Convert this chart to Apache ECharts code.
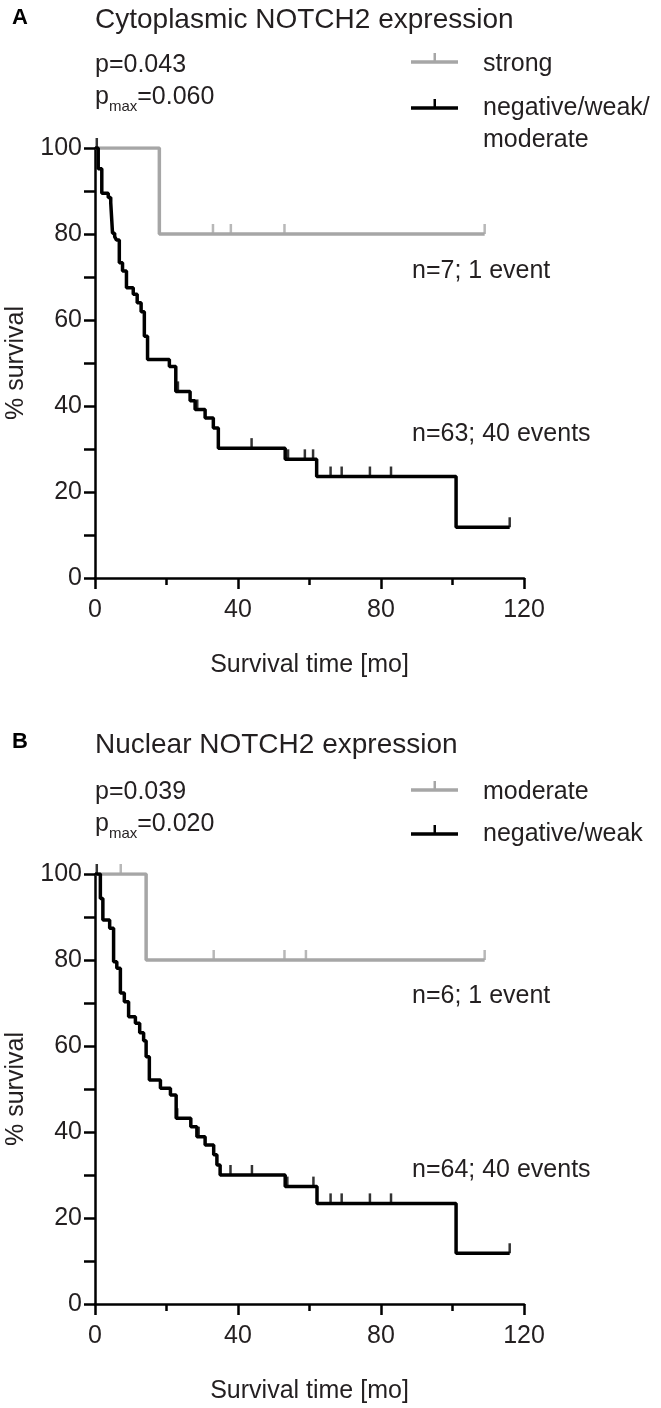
<!DOCTYPE html>
<html><head><meta charset="utf-8">
<script src="https://cdn.jsdelivr.net/npm/echarts@6/dist/echarts.min.js"></script>
<style>html,body{margin:0;padding:0;background:#fff}#c{width:661px;height:1408px}</style>
</head><body><div id="c"></div>
<script>
// ---- data ----
const xTicks = [0, 40, 80, 120];
const yTicks = [0, 20, 40, 60, 80, 100];
// Panel A: cytoplasmic NOTCH2
const aStrong = [[0,100],[18,80],[109,80]];
const aStrongCens = [33, 38, 53, 109];
const aNeg = [[0,100],[0.9,95.2],[1.9,89.5],[3.7,88.5],[4.4,87.3],[4.9,80.2],[5.5,79.4],[6.0,78.6],[6.8,73.3],[7.7,71.4],[8.8,67.5],[10.7,66],[11.8,64],[12.9,61.9],[13.8,56.2],[14.7,50.8],[20.8,49.2],[22.6,43.4],[26.6,41.2],[28,39.2],[30.8,37.2],[33.1,34.9],[34.5,30.2],[53.2,27.6],[62,23.6],[101,11.8],[116,11.8]];
const aNegCens = [0.5, 23.2, 28.6, 43.8, 54, 58.7, 61, 65.9, 69, 76.9, 82.8, 116];
// Panel B: nuclear NOTCH2
const bMod = [[0,100],[14.3,80],[109,80]];
const bModCens = [7.2, 33.2, 53, 59, 109];
const bNeg = [[0,100],[1.5,94.3],[2.2,89.3],[4.1,87.4],[5.2,79.6],[6.1,78.1],[7.1,72.3],[8.2,70.3],[9.4,66.8],[11.3,65.3],[12.5,63.1],[13.6,61.2],[14.3,57.5],[15.2,52.1],[18.3,50.2],[21.1,48.6],[22.7,43.2],[26.8,41.2],[28.5,38.9],[30.8,37],[33.2,34.7],[34.1,32.3],[35,30],[53.2,27.3],[62.1,23.4],[101,11.8],[116,11.8]];
const bNegCens = [0.5, 23, 29, 37.9, 43.9, 53.8, 61.1, 65.9, 69, 76.9, 82.8, 116];

const GREY = '#a6a6a6', BLACK = '#000', TXT = '#231f20';
const FF = '"Liberation Sans", Arial, sans-serif';

function valAt(curve, t) { let v = curve[0][1]; for (const p of curve) { if (p[0] <= t) v = p[1]; } return v; }
function cens(curve, times) { return times.map(t => [t, valAt(curve, t)]); }

function xAx(gi) {
  return { gridIndex: gi, type: 'value', min: 0, max: 120, interval: 40,
    axisLine: { show: true, onZero: false, lineStyle: { color: BLACK, width: 2.5 } },
    axisTick: { show: true, length: 11, lineStyle: { color: BLACK, width: 2.5 } },
    minorTick: { show: true, splitNumber: 2, length: 7, lineStyle: { color: BLACK, width: 2.5 } },
    splitLine: { show: false }, minorSplitLine: { show: false },
    axisLabel: { fontSize: 25, color: TXT, fontFamily: FF, margin: 20,
      customValues: xTicks },
    name: 'Survival time [mo]', nameLocation: 'middle', nameGap: 75,
    nameTextStyle: { fontSize: 25, color: TXT, fontFamily: FF } };
}
function yAx(gi) {
  return { gridIndex: gi, type: 'value', min: 0, max: 100, interval: 20,
    axisLine: { show: true, onZero: false, lineStyle: { color: BLACK, width: 2.5 } },
    axisTick: { show: true, length: 11, lineStyle: { color: BLACK, width: 2.5 } },
    minorTick: { show: true, splitNumber: 2, length: 11, lineStyle: { color: BLACK, width: 2.5 } },
    splitLine: { show: false }, minorSplitLine: { show: false },
    axisLabel: { fontSize: 25, color: TXT, fontFamily: FF, margin: 13 },
    name: '% survival', nameLocation: 'middle', nameGap: 66, nameRotate: 90,
    nameTextStyle: { fontSize: 25, color: TXT, fontFamily: FF } };
}
function km(gi, data, color) {
  return { type: 'line', xAxisIndex: gi, yAxisIndex: gi, data: data, step: 'end', symbol: 'none',
    lineStyle: { color: color, width: 3.5 }, itemStyle: { color: color }, animation: false, z: 3 };
}
function cs(gi, data, color) {
  return { type: 'scatter', xAxisIndex: gi, yAxisIndex: gi, data: data, symbol: 'rect',
    symbolSize: [2.5, 10], symbolOffset: [0, -5], itemStyle: { color: color }, animation: false, z: 4 };
}
function txt(x, y, s, size, extra) {
  return Object.assign({ type: 'text', x: x, y: y, style: { text: s, font: (size || 25) + 'px ' + FF, fill: TXT, verticalAlign: 'middle', align: 'left' } }, extra || {});
}
function pmax(x, y, val) {
  return { type: 'text', x: x, y: y, style: { text: '{a|p}{s|max}{a|=' + val + '}', fill: TXT, verticalAlign: 'middle', align: 'left',
    rich: { a: { fontSize: 25, fontFamily: FF, lineHeight: 34, fill: TXT }, s: { fontSize: 15, fontFamily: FF, lineHeight: 15, verticalAlign: 'bottom', fill: TXT } } } };
}
function legItem(x, y, color) {
  return [
    { type: 'rect', shape: { x: x, y: y - 1.75, width: 47, height: 3.5 }, style: { fill: color } },
    { type: 'rect', shape: { x: x + 22.5, y: y - 9, width: 2.5, height: 8 }, style: { fill: color } }
  ];
}

const chart = echarts.init(document.getElementById('c'), null, { renderer: 'canvas' });
chart.setOption({
  backgroundColor: '#fff',
  animation: false,
  grid: [
    { left: 95, top: 148, width: 429, height: 430, containLabel: false, outerBoundsMode: 'none' },
    { left: 95, top: 874, width: 429, height: 430, containLabel: false, outerBoundsMode: 'none' }
  ],
  xAxis: [xAx(0), xAx(1)],
  yAxis: [yAx(0), yAx(1)],
  series: [
    km(0, aStrong, GREY), cs(0, cens(aStrong, aStrongCens), GREY),
    km(0, aNeg, BLACK), cs(0, cens(aNeg, aNegCens), BLACK),
    km(1, bMod, GREY), cs(1, cens(bMod, bModCens), GREY),
    km(1, bNeg, BLACK), cs(1, cens(bNeg, bNegCens), BLACK)
  ],
  graphic: [
    txt(12, 18, 'A', 22, { style: { text: 'A', font: 'bold 22px ' + FF, fill: BLACK, verticalAlign: 'middle' } }),
    txt(95, 20, 'Cytoplasmic NOTCH2 expression', 28),
    txt(95, 65, 'p=0.043'),
    pmax(95, 97, '0.060'),
    ...legItem(411, 62, GREY),
    txt(483, 64, 'strong'),
    ...legItem(411, 108, BLACK),
    txt(483, 108, 'negative/weak/'),
    txt(483, 140, 'moderate'),
    txt(412, 271, 'n=7; 1 event'),
    txt(412, 434, 'n=63; 40 events'),

    txt(12, 742, 'B', 22, { style: { text: 'B', font: 'bold 22px ' + FF, fill: BLACK, verticalAlign: 'middle' } }),
    txt(95, 745, 'Nuclear NOTCH2 expression', 28),
    txt(95, 792, 'p=0.039'),
    pmax(95, 824, '0.020'),
    ...legItem(411, 790, GREY),
    txt(483, 792, 'moderate'),
    ...legItem(411, 834, BLACK),
    txt(483, 834, 'negative/weak'),
    txt(412, 996, 'n=6; 1 event'),
    txt(412, 1170, 'n=64; 40 events')
  ]
});
</script></body></html>
